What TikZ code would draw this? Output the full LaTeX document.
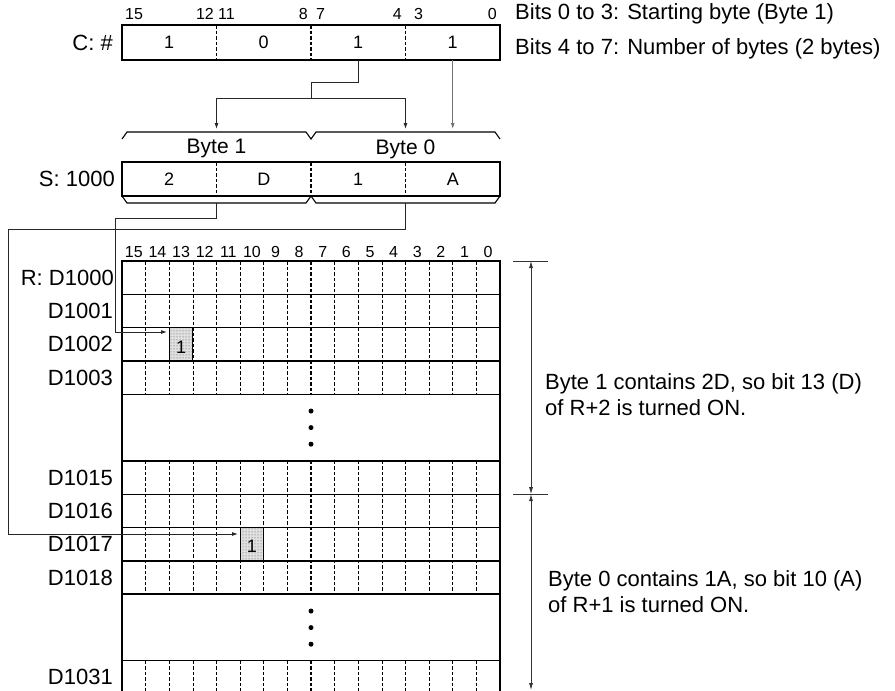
\documentclass[tikz,border=0pt]{standalone}
\usepackage{fontspec}
\setmainfont{Liberation Sans}
\usetikzlibrary{patterns,arrows.meta}
\begin{document}
\begin{tikzpicture}[x=1pt,y=-1pt,
  box/.style={draw=black,line width=1.4pt},
  divider/.style={draw=black,line width=0.75pt,dash pattern=on 3.5pt off 2pt},
  middiv/.style={draw=black,line width=1.3pt,dash pattern=on 3.5pt off 2pt},
  conn/.style={draw=black!85,line width=0.9pt},
  arr/.style={-{Latex[length=6pt,width=4pt]}},
  dimarr/.style={draw=black!80,line width=0.8pt},
  lbl/.style={inner sep=0pt,font=\fontsize{22}{24}\selectfont},
  val/.style={inner sep=0pt,font=\fontsize{18}{20}\selectfont},
  bytel/.style={inner sep=0pt,font=\fontsize{21}{23}\selectfont},
  bitn/.style={inner sep=0pt,font=\fontsize{16}{17}\selectfont},
  shade/.style={draw=black,line width=0.8pt,fill=black!12}
]
\useasboundingbox (0,0) rectangle (895,691);

% ---------- C register ----------
\draw[box] (122,25) rectangle (500,60);
\draw[divider] (216.5,25) -- (216.5,60);
\draw[middiv] (311,25) -- (311,60);
\draw[divider] (405.5,25) -- (405.5,60);
\node[val] (c1) at (169.25,42.5) {1};
\node[val] (c2) at (263.75,42.5) {0};
\node[val] (c3) at (358.25,42.5) {1};
\node[val] (c4) at (452.75,42.5) {1};
\node[bitn,anchor=west] (b15) at (125,14) {15};
\node[bitn,anchor=east] (b12) at (214,14) {12};
\node[bitn,anchor=west] (b11) at (218,14) {11};
\node[bitn,anchor=east] (b8) at (308,14) {8};
\node[bitn,anchor=west] (b7) at (316,14) {7};
\node[bitn,anchor=east] (b4) at (402,14) {4};
\node[bitn,anchor=west] (b3) at (414,14) {3};
\node[bitn,anchor=east] (b0) at (497,14) {0};
\node[lbl,anchor=east] (clab) at (113,42.5) {C: \#};

\node[lbl,anchor=west] (t1) at (515,14) {Bits 0 to 3: Starting byte (Byte 1)};
\node[lbl,anchor=west] (t2) at (515,49) {Bits 4 to 7: Number of bytes (2 bytes)};

% connectors C -> braces
\coordinate (c3b) at (358.25,60);
\coordinate (c4b) at (452.75,60);
\coordinate (j1) at (358.25,82);
\coordinate (j2) at (311,82);
\coordinate (j3) at (311,98);
\coordinate (sl) at (216.5,98);
\coordinate (sr) at (405.5,98);
\coordinate (al) at (216.5,129);
\coordinate (ar) at (405.5,129);
\coordinate (a0) at (452.75,129);
\draw[conn] (c3b) -- (j1) -- (j2) -- (j3);
\draw[conn] (sl) -- (sr);
\draw[conn,arr] (sl) -- (al);
\draw[conn,arr] (sr) -- (ar);
\draw[draw=black!55,line width=0.9pt,arr] (c4b) -- (a0);

% braces
\draw[line width=1.1pt] (122,139) -- (127,132) -- (306,132) -- (311,139) -- (316,132) -- (495,132) -- (500,139);
\node[bytel,anchor=base] (by1) at (216.5,153) {Byte 1};
\node[bytel,anchor=base] (by0) at (405.5,154) {Byte 0};

% ---------- S register ----------
\draw[box] (122,162) rectangle (500,196);
\draw[divider] (216.5,162) -- (216.5,196);
\draw[middiv] (311,162) -- (311,196);
\draw[divider] (405.5,162) -- (405.5,196);
\node[val] (s1) at (169.25,179) {2};
\node[val] (s2) at (263.75,179) {D};
\node[val] (s3) at (358.25,179) {1};
\node[val] (s4) at (452.75,179) {A};
\node[lbl,anchor=east] (slab) at (115,179) {S: 1000};
\draw[line width=1.1pt] (122,196) -- (127,203) -- (306,203) -- (311,196) -- (316,203) -- (495,203) -- (500,196);

% ---------- R grid ----------
\def\cw{23.625}
% shaded cells
\filldraw[shade] ({122+2*\cw},327.6) rectangle ({122+3*\cw},361);
\filldraw[shade] ({122+5*\cw},527.5) rectangle ({122+6*\cw},560.8);
\fill[pattern=dots,pattern color=black!70] ({122+2*\cw},327.6) rectangle ({122+3*\cw},361);
\fill[pattern=dots,pattern color=black!70] ({122+5*\cw},527.5) rectangle ({122+6*\cw},560.8);
\node[val] (one1) at ({122+2.5*\cw},347) {1};
\node[val] (one2) at ({122+5.5*\cw},546) {1};

% column dividers
\foreach \k in {1,...,15}{
  \pgfmathsetmacro{\xx}{122+\k*\cw}
  \ifnum\k=8
    \draw[middiv] (\xx,261) -- (\xx,394.3);
    \draw[middiv] (\xx,460.9) -- (\xx,594.1);
    \draw[middiv] (\xx,660.7) -- (\xx,692);
  \else
    \draw[divider] (\xx,261) -- (\xx,394.3);
    \draw[divider] (\xx,460.9) -- (\xx,594.1);
    \draw[divider] (\xx,660.7) -- (\xx,692);
  \fi
}
% outer lines and row lines
\draw[box] (122,692) -- (122,261) -- (500,261) -- (500,692);
\foreach \yy in {294.3,327.6,361,394.3,460.9,494.2,527.5,560.8,594.1,660.7}
  \draw[box] (122,\yy) -- (500,\yy);

% bit numbers
\foreach \b [count=\i from 0] in {15,14,13,12,11,10,9,8,7,6,5,4,3,2,1,0}
  \node[bitn] (gb\b) at ({122+(\i+0.5)*\cw},252) {\b};

% dots
\foreach \yy in {411,427.6,444.2,611,627.6,644.2}
  \fill (311,\yy) circle (2.5);

% row labels
\node[lbl,anchor=east] (r0) at (114,277.6) {R: D1000};
\node[lbl,anchor=east] (r1) at (113,311) {D1001};
\node[lbl,anchor=east] (r2) at (113,344.3) {D1002};
\node[lbl,anchor=east] (r3) at (113,377.6) {D1003};
\node[lbl,anchor=east] (r15) at (113,477.5) {D1015};
\node[lbl,anchor=east] (r16) at (113,510.8) {D1016};
\node[lbl,anchor=east] (r17) at (113,544.2) {D1017};
\node[lbl,anchor=east] (r18) at (113,577.5) {D1018};
\node[lbl,anchor=east] (r31) at (113,677.4) {D1031};

% connectors S -> R
\coordinate (sdb) at (216.5,203);
\coordinate (sab) at (405.5,203);
\coordinate (p1) at (216.5,218);
\coordinate (p2) at (115,218);
\coordinate (p3) at (115,332);
\coordinate (p4) at (167,332);
\coordinate (q2) at (405.5,229);
\coordinate (q3) at (8,229);
\coordinate (q4) at (8,534);
\coordinate (q5) at (238,534);
\draw[conn,arr] (sdb) -- (p1) -- (p2) -- (p3) -- (p4);
\draw[conn,arr] (sab) -- (q2) -- (q3) -- (q4) -- (q5);

% right dimension
\coordinate (d0) at (531,261);
\coordinate (d1) at (531,494.2);
\coordinate (d2) at (531,690);
\draw[dimarr] (513,261) -- (548,261);
\draw[dimarr] (513,494.2) -- (548,494.2);
\draw[dimarr,{Latex[length=7pt,width=4pt]}-{Latex[length=7pt,width=4pt]}] (d0) -- (d1);
\draw[dimarr,{Latex[length=7pt,width=4pt]}-{Latex[length=7pt,width=4pt]}] (d1) -- (d2);

\node[lbl,anchor=west] (e1) at (545,384) {Byte 1 contains 2D, so bit 13 (D)};
\node[lbl,anchor=west] (e2) at (545,408) {of R+2 is turned ON.};
\node[lbl,anchor=west] (e3) at (548,581) {Byte 0 contains 1A, so bit 10 (A)};
\node[lbl,anchor=west] (e4) at (548,605) {of R+1 is turned ON.};
\end{tikzpicture}
\end{document}
